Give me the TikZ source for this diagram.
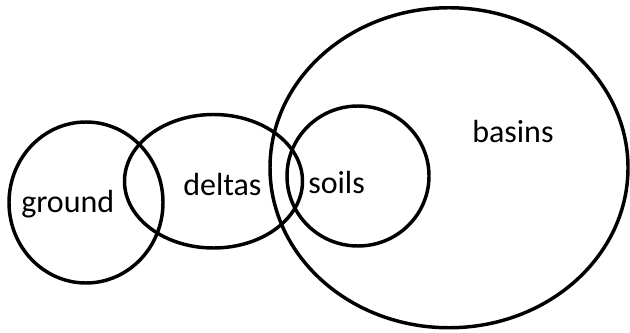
\documentclass[tikz,border=0pt]{standalone}
\usepackage{fontspec}
\setmainfont{Carlito}
\begin{document}
\begin{tikzpicture}[x=0.75pt, y=0.75pt,
    ring/.style={black, line width=2.6pt},
    word/.style={anchor=base west, inner sep=0pt, font=\fontsize{24}{28}\selectfont}]
            \useasboundingbox (0,0) rectangle (630,332);

            % Draw the circles
            \draw[ring] (86,129.5) ellipse (77 and 80.5);
            \draw[ring] (213.5,150.75) ellipse (89 and 66.75);
            \draw[ring] (358,156) ellipse (71 and 70);
            \draw[ring] (449,164.25) ellipse (179 and 160);

            % Draw the labels
            \node[word] (ground) at (21,120) {ground};
            \node[word] (deltas) at (183,137) {deltas};
            \node[word] (soils) at (308,139) {soils};
            \node[word] (basins) at (472,189) {basins};

        \end{tikzpicture}
\end{document}
